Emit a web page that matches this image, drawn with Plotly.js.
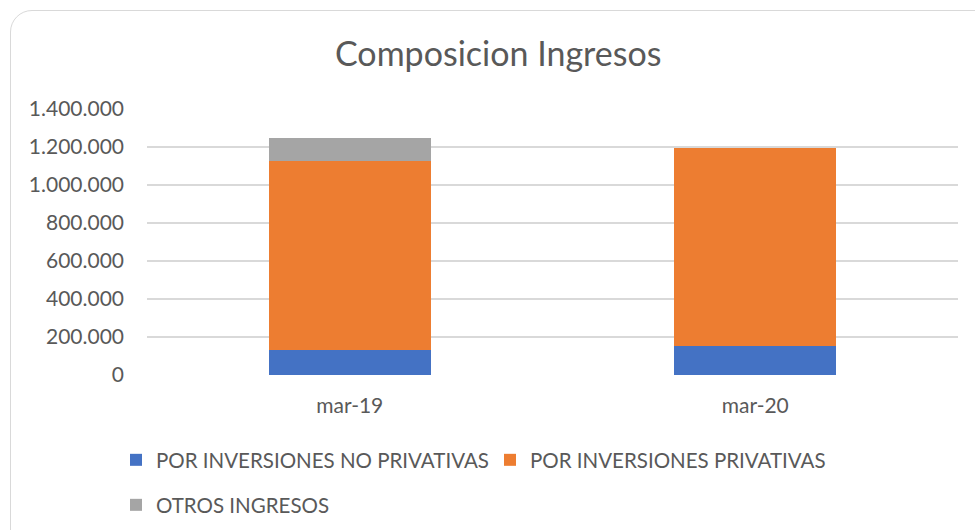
<!DOCTYPE html>
<html>
<head>
<meta charset="utf-8">
<script src="https://cdn.plot.ly/plotly-3.0.1.min.js"></script>
<style>
  html, body { margin: 0; padding: 0; background: #ffffff; }
  #frame { position: absolute; left: 10px; top: 10px; width: 990px; height: 560px;
           border: 1.5px solid #d9d9d9; border-radius: 22px; box-sizing: border-box; }
  #chart { position: absolute; left: 0; top: 0; width: 975px; height: 530px; }
</style>
</head>
<body>
<div id="frame"></div>
<div id="chart"></div>
<script>
const categories = ["mar-19", "mar-20"];
const noPrivativas = [132000, 151000];
const privativas = [996000, 1045000];
const otros = [119000, 0];
const seriesNames = ["POR INVERSIONES NO PRIVATIVAS", "POR INVERSIONES PRIVATIVAS", "OTROS INGRESOS"];
const yTicks = [0, 200000, 400000, 600000, 800000, 1000000, 1200000, 1400000];

const font = "Lato, 'Noto Sans', sans-serif";
const traces = [
  { type: "bar", name: seriesNames[0], x: categories, y: noPrivativas, width: 0.4,
    marker: { color: "#4472C4" }, legend: "legend", hoverinfo: "y" },
  { type: "bar", name: seriesNames[1], x: categories, y: privativas, width: 0.4,
    marker: { color: "#ED7D31" }, legend: "legend3", hoverinfo: "y" },
  { type: "bar", name: seriesNames[2], x: categories, y: otros, width: 0.4,
    marker: { color: "#A5A5A5" }, legend: "legend2", hoverinfo: "y" }
];

const legendBase = { orientation: "h", xref: "container", yref: "container", xanchor: "left",
  yanchor: "middle", font: { size: 20.5, color: "#595959" }, itemwidth: 30, bgcolor: "rgba(0,0,0,0)" };

const layout = {
  width: 975, height: 530,
  paper_bgcolor: "rgba(0,0,0,0)", plot_bgcolor: "rgba(0,0,0,0)",
  barmode: "stack",
  separators: ",.",
  margin: { l: 147, r: 17, t: 109, b: 155 },
  font: { family: font, color: "#595959", size: 21 },
  title: { text: "Composicion Ingresos", x: 0.511, xanchor: "center", y: 0.897, yanchor: "middle",
           font: { family: font, size: 34, color: "#595959" } },
  xaxis: { type: "category", showgrid: false, showline: false, ticks: "",
           tickfont: { size: 21, color: "#595959" }, ticklabelstandoff: 16 },
  yaxis: { range: [0, 1400000], tickvals: yTicks, tickformat: ",d", showgrid: true,
           gridcolor: "#d9d9d9", gridwidth: 1.5, zeroline: false, showline: false,
           ticks: "", ticklabelstandoff: 22, tickfont: { size: 21, color: "#595959" } },
  showlegend: true,
  legend: Object.assign({}, legendBase, { x: 116 / 975, y: 1 - 460 / 530 }),
  legend3: Object.assign({}, legendBase, { x: 490 / 975, y: 1 - 460 / 530 }),
  legend2: Object.assign({}, legendBase, { x: 116 / 975, y: 1 - 505 / 530 })
};

Plotly.newPlot("chart", traces, layout, { displayModeBar: false, staticPlot: true });
</script>
</body>
</html>
